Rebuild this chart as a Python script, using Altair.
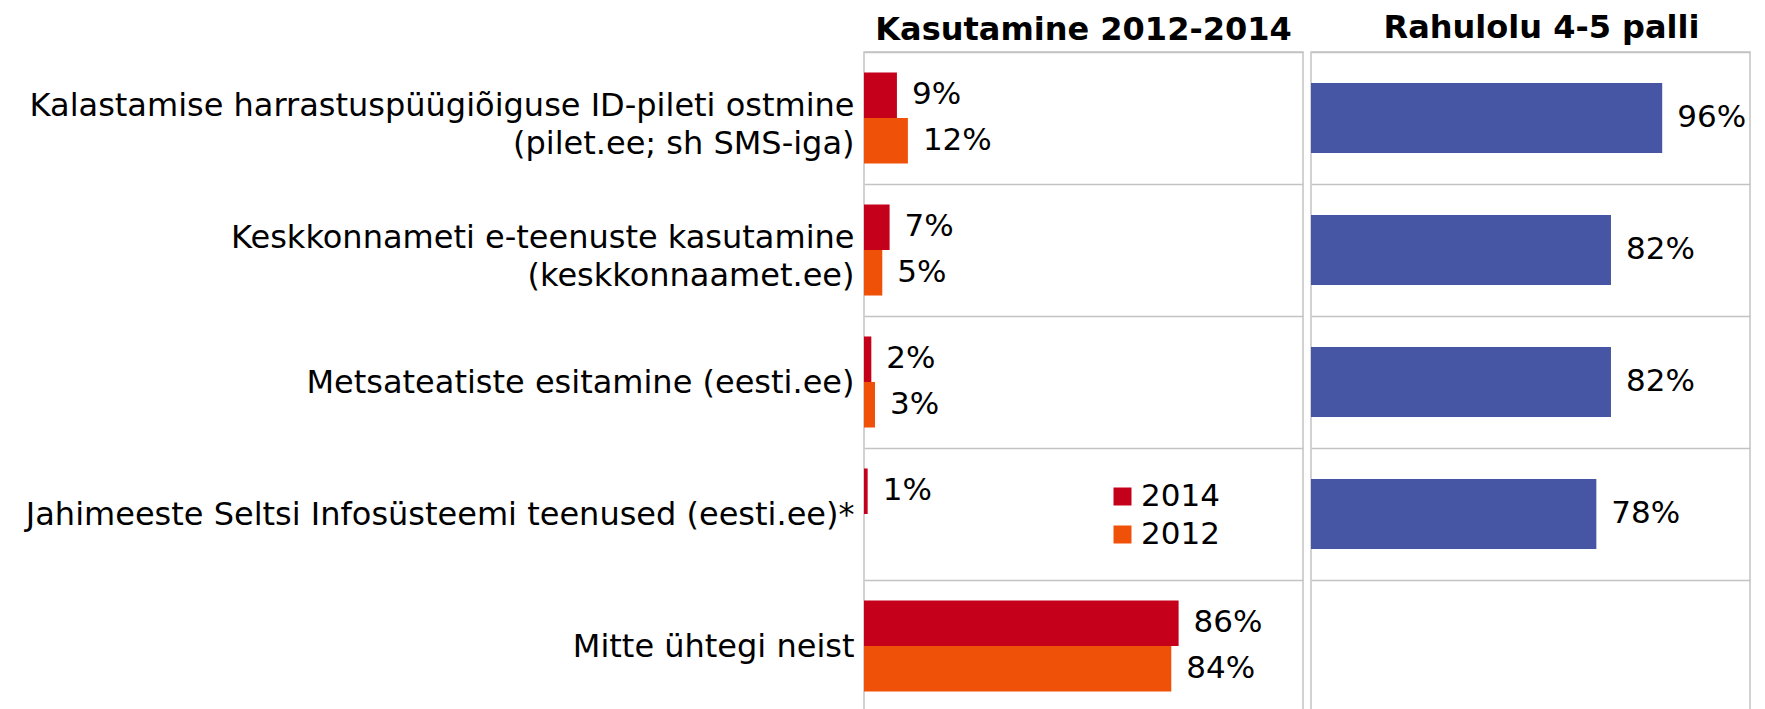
import altair as alt
import pandas as pd

categories = [
    "Kalastamise harrastuspüügiõiguse ID-pileti ostmine\n(pilet.ee; sh SMS-iga)",
    "Keskkonnameti e-teenuste kasutamine\n(keskkonnaamet.ee)",
    "Metsateatiste esitamine (eesti.ee)",
    "Jahimeeste Seltsi Infosüsteemi teenused (eesti.ee)*",
    "Mitte ühtegi neist",
]
years = ["2014", "2012"]
use_2014 = [0.09, 0.07, 0.02, 0.01, 0.86]
use_2012 = [0.12, 0.05, 0.03, None, 0.84]
satisfaction = [0.96, 0.82, 0.82, 0.78, None]

year_colors = ["#C4001A", "#F05108"]
sat_color = "#4755A5"
grid_color = "#C3C3C3"
FONT = "DejaVu Sans"
FS = 31

rows = []
for c, a, b in zip(categories, use_2014, use_2012):
    if a is not None:
        rows.append({"cat": c, "year": "2014", "v": a})
    if b is not None:
        rows.append({"cat": c, "year": "2012", "v": b})
use_df = pd.DataFrame(rows)
sat_df = pd.DataFrame([{"cat": c, "v": s} for c, s in zip(categories, satisfaction) if s is not None])

W = 439
H = 660
xscale = alt.Scale(domain=[0, 1.2], nice=False, zero=True)
yscale = alt.Scale(domain=categories, paddingInner=0, paddingOuter=0)

y_left = alt.Y(
    "cat:N", sort=categories, scale=yscale, title=None,
    axis=alt.Axis(
        tickBand="extent", grid=True, gridColor=grid_color, gridWidth=1.5,
        ticks=False, domain=False, labelFontSize=32, labelFont=FONT,
        labelColor="black", labelPadding=10, labelLimit=1000,
        labelExpr="split(datum.label, '\\n')", labelLineHeight=38,
        labelOffset={"condition": {"test": "indexof(datum.label, '\\n') >= 0", "value": -13}, "value": 0},
        minExtent=850, maxExtent=850,
    ),
)
y_right = alt.Y(
    "cat:N", sort=categories, scale=yscale, title=None,
    axis=alt.Axis(
        tickBand="extent", grid=True, gridColor=grid_color, gridWidth=1.5,
        ticks=False, domain=False, labels=False, minExtent=0, maxExtent=0,
    ),
)

base_left = alt.Chart(use_df).encode(
    y=y_left,
    yOffset=alt.YOffset("year:N", sort=years,
                        scale=alt.Scale(domain=years, paddingInner=0, paddingOuter=0.45)),
    x=alt.X("v:Q", scale=xscale, axis=None),
)
bars_left = base_left.mark_bar().encode(
    color=alt.Color("year:N", sort=years,
                    scale=alt.Scale(domain=years, range=year_colors),
                    legend=alt.Legend(title=None, orient="none", legendX=243, legendY=429,
                                      symbolType="square", symbolSize=324,
                                      symbolStrokeWidth=0, labelFontSize=FS,
                                      labelFont=FONT, labelColor="black",
                                      labelOffset=3, rowPadding=6)),
)
text_left = base_left.mark_text(align="left", baseline="middle", dx=15,
                                fontSize=FS, font=FONT, color="black").encode(
    text=alt.Text("v:Q", format=".0%"))

left = alt.layer(bars_left, text_left).properties(
    width=W, height=H,
    title=alt.TitleParams("Kasutamine 2012-2014", fontSize=32, font=FONT, frame="group",
                          fontWeight="bold", anchor="middle", offset=-11, color="black"),
)

base_right = alt.Chart(sat_df).encode(
    y=y_right,
    x=alt.X("v:Q", scale=xscale, axis=None),
)
bars_right = base_right.mark_bar(color=sat_color, height=alt.RelativeBandSize(0.53))
text_right = base_right.mark_text(align="left", baseline="middle", dx=15,
                                  fontSize=FS, font=FONT, color="black").encode(
    text=alt.Text("v:Q", format=".0%"))
right = alt.layer(bars_right, text_right).properties(
    width=W, height=H,
    title=alt.TitleParams("Rahulolu 4-5 palli", fontSize=32, font=FONT, frame="group",
                          fontWeight="bold", anchor="middle", offset=7, dx=11, color="black"),
)

chart = alt.hconcat(left, right, spacing=6).resolve_legend(color="independent").resolve_scale(
    x="independent", y="independent"
).configure_view(stroke=grid_color, strokeWidth=1.5).properties(
    padding={"left": 5, "top": 3, "right": 5, "bottom": 0}
)

chart.save("out.html", embed_options={"renderer": "svg", "actions": False})
